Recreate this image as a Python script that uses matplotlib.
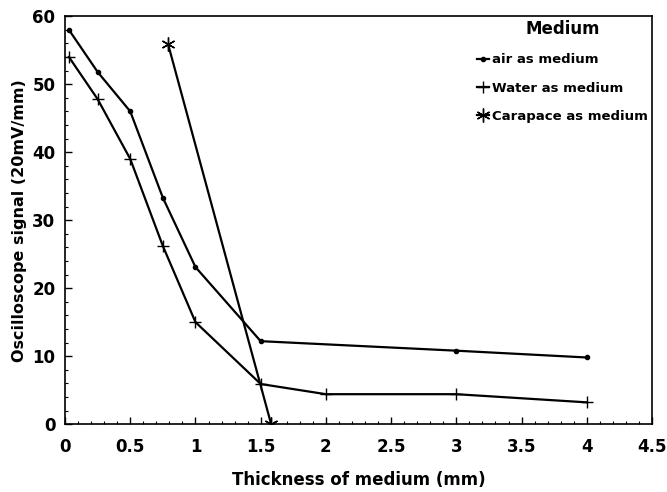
import matplotlib.pyplot as plt
from matplotlib.ticker import MultipleLocator

# Данные
air_x = [0.03, 0.25, 0.5, 0.75, 1.0, 1.5, 3.0, 4.0]
air_y = [58.0, 51.8, 46.0, 33.3, 23.1, 12.2, 10.8, 9.8]

water_x = [0.03, 0.25, 0.5, 0.75, 1.0, 1.5, 2.0, 3.0, 4.0]
water_y = [54.0, 47.8, 39.0, 26.2, 15.0, 5.9, 4.4, 4.4, 3.2]

carapace_x = [0.79, 1.58]
carapace_y = [55.9, 0.0]

plt.rcParams['font.family'] = ['DejaVu Sans']
plt.rcParams['font.weight'] = 'bold'

fig = plt.figure(figsize=(6.67, 4.92), dpi=100)
ax = fig.add_axes([0.0975, 0.138, 0.88, 0.829])

ax.plot(air_x, air_y, color='black', lw=1.6, marker='o', ms=3,
        label='air as medium')
ax.plot(water_x, water_y, color='black', lw=1.6, marker='+', ms=9,
        mew=1.0, label='Water as medium')
ax.plot(carapace_x, carapace_y, color='black', lw=1.6, marker=(6, 2, 0),
        ms=10, mew=1.0, label='Carapace as medium')

ax.set_xlim(0, 4.5)
ax.set_ylim(0, 60)
ax.xaxis.set_minor_locator(MultipleLocator(0.1))
ax.yaxis.set_major_locator(MultipleLocator(10))
ax.yaxis.set_minor_locator(MultipleLocator(2))
ax.set_xticks([0, 0.5, 1, 1.5, 2, 2.5, 3, 3.5, 4, 4.5])
ax.set_xticklabels(['0', '0.5', '1', '1.5', '2', '2.5', '3', '3.5', '4', '4.5'])

ax.tick_params(which='major', direction='in', length=5, width=1,
               labelsize=12, pad=10)
ax.tick_params(axis='y', which='major', pad=7)
ax.tick_params(which='minor', direction='in', length=2.5, width=0.8)
for lab in ax.get_xticklabels() + ax.get_yticklabels():
    lab.set_fontweight('bold')

for s in ax.spines.values():
    s.set_linewidth(1.2)

ax.set_xlabel('Thickness of medium (mm)', fontsize=12, fontweight='bold',
              labelpad=11)
ax.set_ylabel('Oscilloscope signal (20mV/mm)', fontsize=11.5,
              fontweight='bold', labelpad=4)

leg = ax.legend(title='Medium', loc='upper right', frameon=False,
                fontsize=9.5, title_fontsize=12, handlelength=0.9,
                handletextpad=0.25, labelspacing=1.15,
                borderaxespad=0.0, borderpad=0.3)
leg.get_title().set_fontweight('bold')

fig.savefig('out.png', dpi=100)
